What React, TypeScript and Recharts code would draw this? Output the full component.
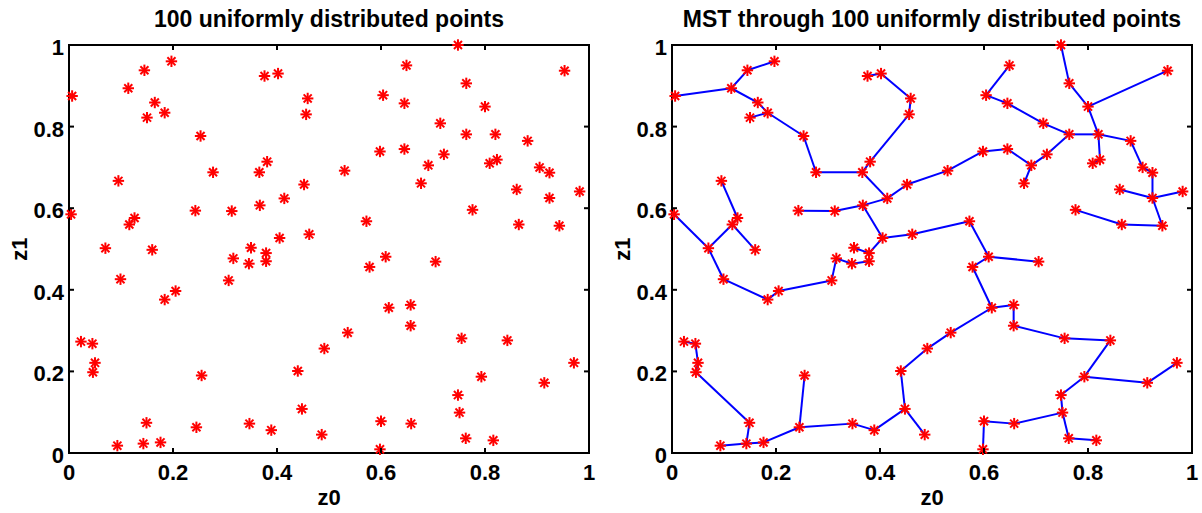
import { ScatterChart, Scatter, XAxis, YAxis, ReferenceArea } from "recharts";

// point coordinates (index 1..100 used by EDGES)
const Z0 = [
  0.006, 0.197, 0.145, 0.114, 0.165, 0.184, 0.150, 0.376, 0.402, 0.459,
  0.456, 0.253, 0.277, 0.366, 0.381, 0.095, 0.452, 0.414, 0.004, 0.243,
  0.313, 0.367, 0.126, 0.116, 0.405, 0.462, 0.070, 0.160, 0.350, 0.379,
  0.379, 0.316, 0.346, 0.099, 0.307, 0.205, 0.184, 0.023, 0.045, 0.050,
  0.046, 0.255, 0.440, 0.491, 0.448, 0.149, 0.347, 0.245, 0.389, 0.486,
  0.093, 0.143, 0.176, 0.748, 0.649, 0.953, 0.764, 0.604, 0.645, 0.800,
  0.714, 0.764, 0.820, 0.882, 0.598, 0.645, 0.721, 0.691, 0.809, 0.823,
  0.530, 0.905, 0.924, 0.677, 0.861, 0.982, 0.924, 0.776, 0.865, 0.943,
  0.572, 0.609, 0.578, 0.705, 0.615, 0.657, 0.657, 0.536, 0.755, 0.843,
  0.971, 0.793, 0.914, 0.748, 0.751, 0.600, 0.658, 0.763, 0.816, 0.598,
];
const Z1 = [
  0.875, 0.960, 0.938, 0.894, 0.859, 0.834, 0.822, 0.924, 0.930, 0.869,
  0.830, 0.777, 0.688, 0.688, 0.714, 0.667, 0.658, 0.624, 0.585, 0.594,
  0.593, 0.607, 0.576, 0.560, 0.527, 0.536, 0.502, 0.498, 0.503, 0.490,
  0.470, 0.477, 0.464, 0.426, 0.423, 0.397, 0.376, 0.273, 0.268, 0.221,
  0.198, 0.190, 0.201, 0.256, 0.108, 0.074, 0.072, 0.063, 0.056, 0.045,
  0.018, 0.023, 0.026, 1.000, 0.950, 0.937, 0.906, 0.877, 0.857, 0.849,
  0.808, 0.781, 0.781, 0.765, 0.739, 0.745, 0.732, 0.705, 0.710, 0.719,
  0.692, 0.700, 0.687, 0.661, 0.646, 0.641, 0.625, 0.596, 0.560, 0.557,
  0.568, 0.481, 0.456, 0.469, 0.356, 0.363, 0.312, 0.295, 0.281, 0.276,
  0.221, 0.187, 0.172, 0.142, 0.099, 0.078, 0.072, 0.036, 0.031, 0.009,
];

// spanning tree edges (1-based point numbers)
const EDGES: [number, number][] = [
  [1, 4], [4, 3], [3, 2], [4, 5], [5, 6], [6, 7], [6, 12], [12, 13], [13, 14], [14, 15],
  [15, 11], [11, 10], [10, 9], [9, 8], [14, 18], [18, 17], [17, 71], [18, 22], [22, 21], [21, 20],
  [22, 25], [25, 26], [26, 81], [25, 30], [16, 23], [23, 24], [24, 27], [19, 27], [24, 28],
  [27, 34], [34, 37], [37, 36], [36, 35], [35, 32], [32, 33], [33, 31], [31, 30], [29, 30],
  [38, 39], [39, 40], [40, 41], [41, 46], [46, 52], [52, 51], [52, 53], [53, 48], [48, 42],
  [48, 47], [47, 49], [49, 45], [45, 43], [45, 50], [43, 44],
  [81, 82], [82, 84], [82, 83], [83, 85], [85, 86], [86, 87], [85, 88], [88, 44], [87, 89],
  [89, 90], [90, 92], [92, 93], [93, 91], [92, 94], [94, 95], [95, 97], [97, 96], [96, 100],
  [95, 98], [98, 99],
  [54, 57], [57, 60], [60, 56], [60, 63], [63, 62], [62, 61], [61, 59], [59, 58], [58, 55],
  [62, 67], [67, 68], [68, 74], [68, 66], [66, 65], [65, 71], [63, 70], [70, 69], [63, 64],
  [64, 72], [72, 73], [73, 77], [77, 75], [77, 76], [77, 80], [80, 79], [79, 78],
];

const TICKS = [0, 0.2, 0.4, 0.6, 0.8, 1];
const TITLE_LEFT = "100 uniformly distributed points";
const TITLE_RIGHT = "MST through 100 uniformly distributed points";

const FONT = "'Liberation Sans', Arial, Helvetica, sans-serif";
const FONT_SIZE = 22;
const PLOT_W = 520;
const PLOT_H = 408;
const TICK_LEN = 5;
const PANEL_W = 601;
const PANEL_H = 513;

const points = Z0.map((x, i) => ({ x, y: Z1[i] }));
const edgeData = EDGES.map(([a, b]) => [points[a - 1], points[b - 1]]);

function Star({ cx, cy }: { cx: number; cy: number }) {
  const r = 5.7;
  const d = r * 0.7071;
  return (
    <g stroke="#ff0000" strokeWidth={2}>
      <line x1={cx - r} y1={cy} x2={cx + r} y2={cy} />
      <line x1={cx} y1={cy - r} x2={cx} y2={cy + r} />
      <line x1={cx - d} y1={cy - d} x2={cx + d} y2={cy + d} />
      <line x1={cx - d} y1={cy + d} x2={cx + d} y2={cy - d} />
    </g>
  );
}

const textStyle = { fontFamily: FONT, fontWeight: "bold" as const, fontSize: FONT_SIZE, fill: "#000" };

function XTick(props: any) {
  const { x, y, payload } = props;
  return (
    <g>
      <line x1={x} y1={y} x2={x} y2={y - TICK_LEN} stroke="#000" strokeWidth={2} />
      <line x1={x} y1={y - PLOT_H} x2={x} y2={y - PLOT_H + TICK_LEN} stroke="#000" strokeWidth={2} />
      <text x={x} y={y + 27} textAnchor="middle" {...textStyle}>
        {String(payload.value)}
      </text>
    </g>
  );
}

function YTick(props: any) {
  const { x, y, payload } = props;
  return (
    <g>
      <line x1={x} y1={y} x2={x + TICK_LEN} y2={y} stroke="#000" strokeWidth={2} />
      <line x1={x + PLOT_W} y1={y} x2={x + PLOT_W - TICK_LEN} y2={y} stroke="#000" strokeWidth={2} />
      <text x={x - 5} y={y + 10} textAnchor="end" {...textStyle}>
        {String(payload.value)}
      </text>
    </g>
  );
}

function Panel({ title, axisW, labelX, tree }: { title: string; axisW: number; labelX: number; tree: boolean }) {
  return (
    <div style={{ position: "relative", width: PANEL_W, height: PANEL_H }}>
      <svg width={PANEL_W} height={40} style={{ position: "absolute", left: 0, top: 0 }}>
        <text x={axisW + PLOT_W / 2} y={27} textAnchor="middle" {...textStyle} fontSize={23}>
          {title}
        </text>
      </svg>
      <ScatterChart
        width={PANEL_W}
        height={PANEL_H}
        margin={{ top: 45, right: PANEL_W - axisW - PLOT_W, bottom: 0, left: 0 }}
      >
        <XAxis
          type="number"
          dataKey="x"
          domain={[0, 1]}
          ticks={TICKS}
          interval={0}
          height={60}
          tickSize={0}
          tickMargin={0}
          tickLine={false}
          axisLine={false}
          tick={XTick}
          label={{ value: "z0", position: "insideBottom", offset: 8, ...textStyle }}
        />
        <YAxis
          type="number"
          dataKey="y"
          domain={[0, 1]}
          ticks={TICKS}
          interval={0}
          width={axisW}
          tickSize={0}
          tickMargin={0}
          tickLine={false}
          axisLine={false}
          tick={YTick}
          label={{
            value: "z1",
            angle: -90,
            position: "insideLeft",
            offset: labelX,
            ...textStyle,
            style: { textAnchor: "middle" },
          }}
        />
        <ReferenceArea x1={0} x2={1} y1={0} y2={1} fill="none" stroke="#000" strokeWidth={2} />
        {tree &&
          edgeData.map((seg, i) => (
            <Scatter
              key={`e${i}`}
              data={seg}
              line={{ stroke: "#0000ff", strokeWidth: 2 }}
              shape={() => <g />}
              isAnimationActive={false}
            />
          ))}
        <Scatter
          data={points}
          shape={(p: any) => <Star cx={p.cx} cy={p.cy} />}
          isAnimationActive={false}
        />
      </ScatterChart>
    </div>
  );
}

export default function App() {
  return (
    <div
      style={{
        position: "absolute",
        left: 0,
        top: 0,
        width: 1202,
        height: 513,
        background: "#fff",
        display: "flex",
      }}
    >
      <Panel title={TITLE_LEFT} axisW={69} labelX={19} tree={false} />
      <Panel title={TITLE_RIGHT} axisW={71} labelX={21} tree={true} />
    </div>
  );
}
